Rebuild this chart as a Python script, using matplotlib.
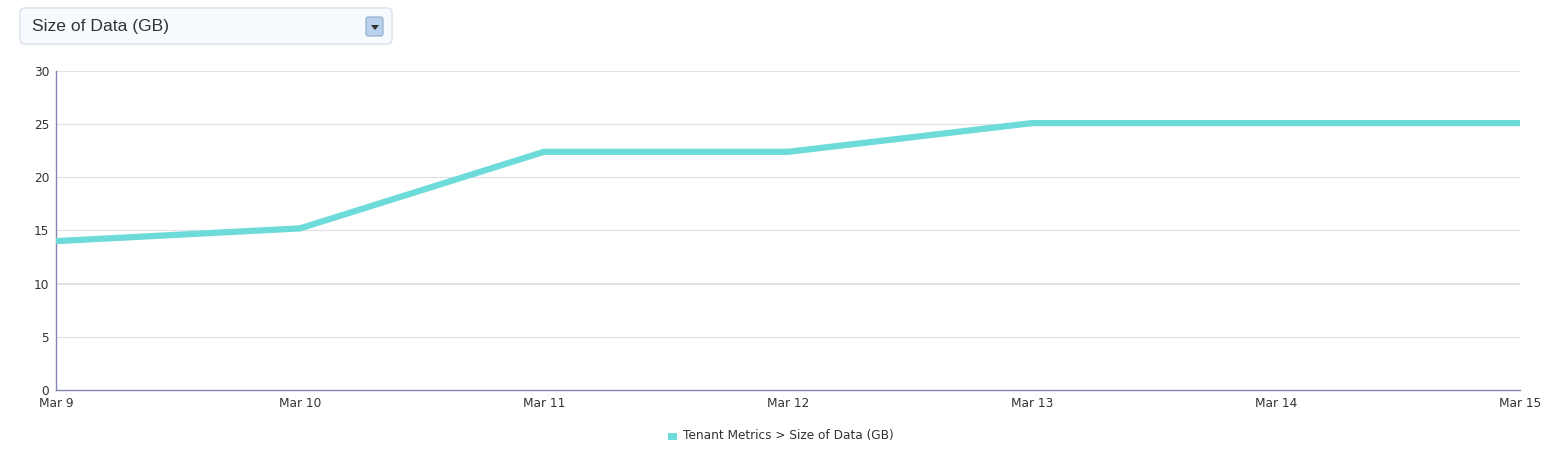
import numpy as np
import matplotlib.pyplot as plt
from matplotlib.patches import FancyBboxPatch, Rectangle

# data
dates = ['Mar 9', 'Mar 10', 'Mar 11', 'Mar 12', 'Mar 13', 'Mar 14', 'Mar 15']
size_gb = [14.0, 15.2, 22.4, 22.4, 25.1, 25.1, 25.1]
y_ticks = [0, 5, 10, 15, 20, 25, 30]
series_name = 'Tenant Metrics > Size of Data (GB)'
dropdown_label = 'Size of Data (GB)'

W, H = 1550, 453
line_color = '#6ddbd9'
axis_color = '#8585b5'
grid_color = '#e0e0e6'
text_color = '#333333'

fig = plt.figure(figsize=(W / 100, H / 100), dpi=100)

#
# Chart area
#
ax = fig.add_axes([56 / W, (H - 390) / H, (1520 - 56) / W, (390 - 71) / H])
x = np.arange(len(dates))
ax.plot(x, size_gb, color=line_color, lw=4.5, solid_joinstyle='miter',
        solid_capstyle='butt', zorder=3, clip_on=False)

ax.set_xlim(0, len(dates) - 1)
ax.set_ylim(0, 30)
ax.set_xticks(x)
ax.set_xticklabels(dates)
ax.set_yticks(y_ticks)
ax.tick_params(axis='both', length=0, labelsize=8.7, colors=text_color)
ax.tick_params(axis='x', pad=5)
ax.tick_params(axis='y', pad=5)

for yt in y_ticks[1:]:
    ax.axhline(yt, color=grid_color, lw=1.4 if yt == 10 else 0.9, zorder=1)

for side in ['top', 'right']:
    ax.spines[side].set_visible(False)
for side in ['left', 'bottom']:
    ax.spines[side].set_color(axis_color)
    ax.spines[side].set_linewidth(1.0)

#
# Legend
#
fig.patches.append(Rectangle((668 / W, (H - 440) / H), 9 / W, 7 / H,
                             transform=fig.transFigure, facecolor=line_color, edgecolor='none'))
fig.text(683 / W, (H - 436) / H, series_name, fontsize=8.7, color=text_color, va='center', ha='left')

#
# Dropdown box above the chart
#
fig.patches.append(FancyBboxPatch((20 / W, (H - 44) / H), (392 - 20) / W, (44 - 8) / H,
                                  boxstyle='round,pad=0,rounding_size=0.003',
                                  transform=fig.transFigure, facecolor='#f7fbff',
                                  edgecolor='#d9e1ea', lw=1.0, mutation_aspect=W / H))
fig.text(32 / W, (H - 26) / H, dropdown_label, fontsize=12.6, family='Liberation Sans',
         color=text_color, va='center', ha='left')
fig.patches.append(FancyBboxPatch((366 / W, (H - 36) / H), 17 / W, 19 / H,
                                  boxstyle='round,pad=0,rounding_size=0.0015',
                                  transform=fig.transFigure, facecolor='#b8d2ee',
                                  edgecolor='#8fa9c8', lw=0.8, mutation_aspect=W / H))
fig.patches.append(plt.Polygon([[371 / W, (H - 25) / H], [379 / W, (H - 25) / H], [375 / W, (H - 30) / H]],
                               closed=True, transform=fig.transFigure, facecolor='#333333', edgecolor='none'))

fig.savefig('out.png', dpi=100, facecolor='white')
